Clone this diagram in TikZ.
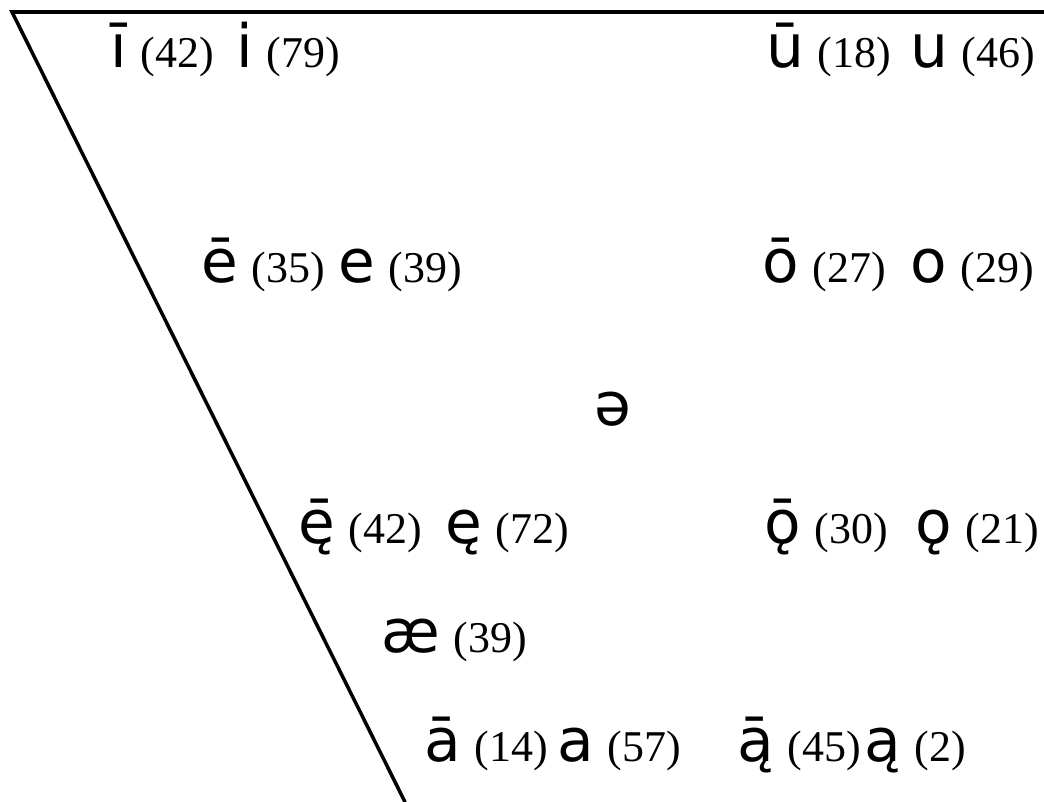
\documentclass[tikz,border=0pt]{standalone}
\usepackage{fontspec}
\setmainfont{Liberation Serif}
\newfontfamily\vfont{DejaVu Sans}
\usetikzlibrary{positioning}
\tikzset{
  vw/.style={anchor=base west,inner sep=0pt,outer sep=0pt},
  rim/.style={line width=1pt,line cap=round},
}
% vowel with its count
\newcommand\vc[2]{{\vfont\fontsize{17}{20}\selectfont #1}\hspace{4pt}{\fontsize{12.5}{15}\selectfont(#2)}}
\newcommand\vs[1]{{\vfont\fontsize{17}{20}\selectfont #1}}

\begin{document}
\begin{tikzpicture}[x=0.1mm,y=-0.1mm]
  \useasboundingbox (0,0) rectangle (1044,802);
  \coordinate (tl) at (12,12);
  \coordinate (tr) at (1044,12);
  \coordinate (bt) at (405,802);
  \draw[rim] (tr) -- (tl) -- (bt);
  % high
  \node[vw] (ilong) at (110,68) {\vc{ī}{42}};
  \node[vw] (ishort) at (236,68) {\vc{i}{79}};
  \node[vw] (ulong) at (766,68) {\vc{ū}{18}};
  \node[vw] (ushort) at (910,68) {\vc{u}{46}};
  % mid
  \node[vw] (elong) at (201,283) {\vc{ē}{35}};
  \node[vw] (eshort) at (338,283) {\vc{e}{39}};
  \node[vw] (olong) at (762,283) {\vc{ō}{27}};
  \node[vw] (oshort) at (910,283) {\vc{o}{29}};
  \node[vw] (schwa) at (594,425) {\vs{ə}};
  % open mid
  \node[vw] (eolong) at (298,543) {\vc{ę̄}{42}};
  \node[vw] (eoshort) at (445,543) {\vc{ę}{72}};
  \node[vw] (oolong) at (764,543) {\vc{ǭ}{30}};
  \node[vw] (ooshort) at (915,543) {\vc{ǫ}{21}};
  \node[vw] (ae) at (381,652) {\vc{æ}{39}};
  % low
  \node[vw] (along) at (424,761) {\vc{ā}{14}};
  \node[vw] (ashort) at (557,761) {\vc{a}{57}};
  \node[vw] (aolong) at (737,761) {\vc{ą̄}{45}};
  \node[vw] (aoshort) at (864,761) {\vc{ą}{2}};
\end{tikzpicture}
\end{document}
